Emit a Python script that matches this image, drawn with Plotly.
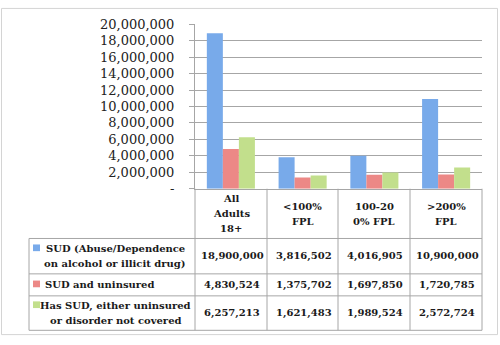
import plotly.graph_objects as go

# Categories (header lines of the data table) and series values
categories = ["All Adults 18+", "<100% FPL", "100-200% FPL", ">200% FPL"]
category_lines = [["All", "Adults", "18+"], ["<100%", "FPL"], ["100-20", "0% FPL"], [">200%", "FPL"]]

series_names = [
    "SUD (Abuse/Dependence on alcohol or illicit drug)",
    "SUD and uninsured",
    "Has SUD, either uninsured or disorder not covered",
]
series_lines = [
    ["SUD (Abuse/Dependence", "on alcohol or illicit drug)"],
    ["SUD and uninsured"],
    ["Has SUD, either uninsured", "or disorder not covered"],
]
sud_total = [18900000, 3816502, 4016905, 10900000]
sud_uninsured = [4830524, 1375702, 1697850, 1720785]
sud_not_covered = [6257213, 1621483, 1989524, 2572724]
series_values = [sud_total, sud_uninsured, sud_not_covered]
series_colors = ["#78aaea", "#ec8886", "#c2df8c"]

tick_vals = [0, 2000000, 4000000, 6000000, 8000000, 10000000,
             12000000, 14000000, 16000000, 18000000, 20000000]
tick_text = ["-", "2,000,000", "4,000,000", "6,000,000", "8,000,000", "10,000,000",
             "12,000,000", "14,000,000", "16,000,000", "18,000,000", "20,000,000"]

W, H = 500, 345


def px(x):
    return x / W


def py(y):
    return 1 - y / H


GRID = "#a6a6a6"
FONT = "DejaVu Serif"
TEXT = "#1a1a1a"

fig = go.Figure()
for name, vals, col in zip(series_names, series_values, series_colors):
    fig.add_trace(go.Bar(x=categories, y=vals, name=name,
                         marker=dict(color=col, line=dict(width=0))))

# Table geometry (pixels)
x_axis_l, x_axis_r = 195, 482
x_table_l = 29
col_edges = [195, 267, 338, 410, 482]
y_axis0 = 190
row_edges = [242, 279, 302, 338]

shapes = []
# outer frame
shapes.append(dict(type="rect", xref="paper", yref="paper",
                   x0=px(1.5), x1=px(497.5), y0=py(342.5), y1=py(1.5),
                   line=dict(color="#d4d4d4", width=1)))
# vertical column lines
for xe in col_edges:
    shapes.append(dict(type="line", xref="paper", yref="paper",
                       x0=px(xe), x1=px(xe), y0=py(y_axis0), y1=py(row_edges[-1]),
                       line=dict(color=GRID, width=1)))
shapes.append(dict(type="line", xref="paper", yref="paper",
                   x0=px(x_table_l), x1=px(x_table_l), y0=py(row_edges[0]), y1=py(row_edges[-1]),
                   line=dict(color=GRID, width=1)))
# horizontal row lines
for ye in row_edges:
    shapes.append(dict(type="line", xref="paper", yref="paper",
                       x0=px(x_table_l), x1=px(x_axis_r), y0=py(ye), y1=py(ye),
                       line=dict(color=GRID, width=1)))

annotations = []
LINE = 15.5
cell_font = dict(family=FONT, size=10, color=TEXT)

# header: category labels
header_mid = (y_axis0 + row_edges[0]) / 2
for i, lines in enumerate(category_lines):
    cx = (col_edges[i] + col_edges[i + 1]) / 2
    n = len(lines)
    for j, ln in enumerate(lines):
        yy = header_mid + (j - (n - 1) / 2) * LINE
        annotations.append(dict(xref="paper", yref="paper", x=px(cx), y=py(yy),
                                text="<b>%s</b>" % ln, showarrow=False,
                                xanchor="center", yanchor="middle", font=cell_font))

# rows: series label, legend key, values
row_tops = [y_axis0 and row_edges[0]] + row_edges[1:-1]
for r, (lines, vals, col) in enumerate(zip(series_lines, series_values, series_colors)):
    top, bot = row_edges[r], row_edges[r + 1]
    mid = (top + bot) / 2
    n = len(lines)
    for j, ln in enumerate(lines):
        yy = mid + (j - (n - 1) / 2) * LINE
        if n == 1:
            ann = dict(x=px(43), xanchor="left")
        else:
            ann = dict(x=px(115), xanchor="center")
        annotations.append(dict(xref="paper", yref="paper", y=py(yy),
                                text="<b>%s</b>" % ln, showarrow=False,
                                yanchor="middle", font=cell_font, **ann))
    key_y = mid - (n - 1) / 2 * LINE
    shapes.append(dict(type="rect", xref="paper", yref="paper",
                       x0=px(33), x1=px(40), y0=py(key_y + 2.5), y1=py(key_y - 4.5),
                       fillcolor=col, line=dict(width=0)))
    for i, v in enumerate(vals):
        cx = (col_edges[i] + col_edges[i + 1]) / 2
        annotations.append(dict(xref="paper", yref="paper", x=px(cx + 1), y=py(mid),
                                text="<b>{:,}</b>".format(v), showarrow=False,
                                xanchor="center", yanchor="middle", font=cell_font))

fig.update_layout(
    width=W, height=H,
    margin=dict(l=0, r=0, t=0, b=0),
    paper_bgcolor="white", plot_bgcolor="white",
    barmode="group", bargap=0.33, bargroupgap=0,
    showlegend=False,
    xaxis=dict(domain=[px(x_axis_l), px(x_axis_r)], showticklabels=False,
               showgrid=False, showline=True, linecolor=GRID, linewidth=1,
               ticks="", zeroline=False),
    yaxis=dict(domain=[py(y_axis0), py(18)], range=[0, 20000000],
               tickvals=tick_vals, ticktext=tick_text,
               showgrid=True, gridcolor=GRID, gridwidth=1,
               showline=True, linecolor=GRID, linewidth=1,
               ticks="outside", ticklen=5, tickcolor=GRID,
               ticklabelstandoff=12, zeroline=False,
               tickfont=dict(family=FONT, size=13, color="#222222")),
    shapes=shapes,
    annotations=annotations,
)

fig.write_html("out.html")
